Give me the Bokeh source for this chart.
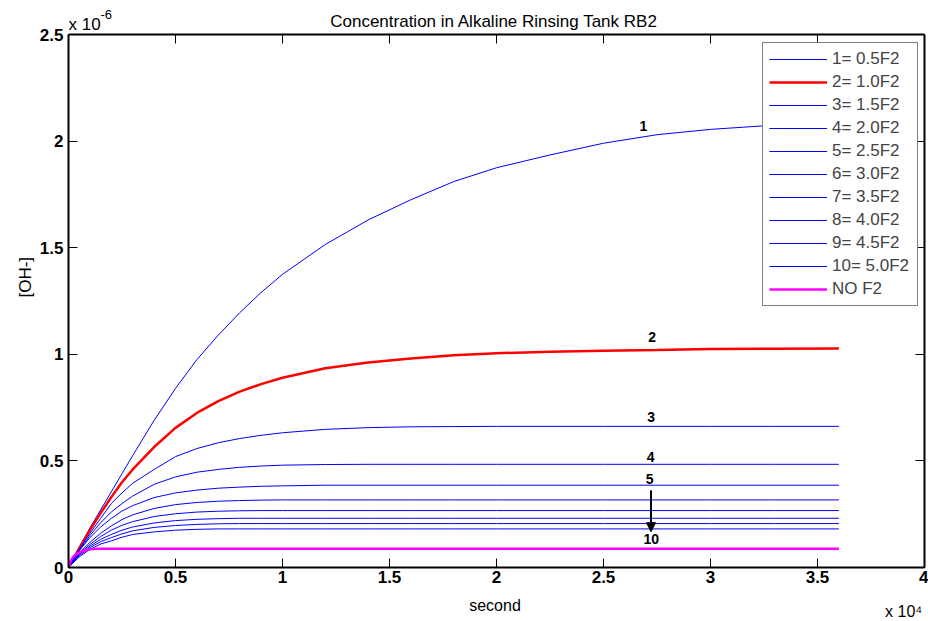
import math
from bokeh.plotting import figure
from bokeh.models import (Label, Legend, LegendItem, LinearAxis, FixedTicker,
                          Range1d, Arrow, NormalHead, Span)
from bokeh.embed import file_html
from bokeh.resources import INLINE

FONT = "Liberation Sans"

# ---------------- data (time in seconds, [OH-] in 1e-6 mol/L) ----------------
time_s = [0, 500, 1000, 1500, 2000, 2500, 3000, 4000, 5000, 6000, 7000, 8000,
          9000, 10000, 12000, 14000, 16000, 18000, 20000, 22500, 25000, 27500,
          30000, 33000, 36000]

c1 = [0, 0.095, 0.185, 0.27, 0.355, 0.44, 0.525, 0.69, 0.84, 0.975, 1.09, 1.195,
      1.29, 1.375, 1.515, 1.63, 1.725, 1.81, 1.875, 1.935, 1.99, 2.03,
      2.055, 2.075, 2.09]
c2 = [0, 0.09, 0.175, 0.255, 0.33, 0.40, 0.46, 0.565, 0.655, 0.725, 0.78, 0.825,
      0.86, 0.89, 0.935, 0.962, 0.98, 0.995, 1.005, 1.012, 1.017, 1.02,
      1.025, 1.026, 1.027]
c3 = [0, 0.085, 0.16, 0.23, 0.30, 0.35, 0.395, 0.46, 0.52, 0.558, 0.585, 0.605,
      0.62, 0.632, 0.648, 0.656, 0.66, 0.661, 0.662, 0.662, 0.662, 0.662,
      0.662, 0.662, 0.662]
c4 = [0, 0.08, 0.15, 0.21, 0.26, 0.30, 0.335, 0.39, 0.425, 0.447, 0.46, 0.47,
      0.476, 0.48, 0.483, 0.484, 0.484, 0.484, 0.484, 0.484, 0.484, 0.484,
      0.484, 0.484, 0.484]
c5 = [0, 0.078, 0.14, 0.19, 0.23, 0.265, 0.29, 0.328, 0.35, 0.363, 0.372, 0.377,
      0.381, 0.383, 0.386, 0.386, 0.386, 0.386, 0.386, 0.386, 0.386, 0.386,
      0.386, 0.386, 0.386]
c6 = [0, 0.068, 0.118, 0.16, 0.195, 0.225, 0.247, 0.277, 0.295, 0.305, 0.311, 0.314,
      0.316, 0.317, 0.317, 0.317, 0.317, 0.317, 0.317, 0.317, 0.317, 0.317,
      0.317, 0.317, 0.317]
c7 = [0, 0.064, 0.108, 0.145, 0.175, 0.198, 0.215, 0.239, 0.252, 0.26, 0.264, 0.266,
      0.267, 0.267, 0.267, 0.267, 0.267, 0.267, 0.267, 0.267, 0.267, 0.267,
      0.267, 0.267, 0.267]
c8 = [0, 0.06, 0.1, 0.132, 0.155, 0.175, 0.19, 0.209, 0.22, 0.226, 0.229, 0.231,
      0.231, 0.231, 0.231, 0.231, 0.231, 0.231, 0.231, 0.231, 0.231, 0.231,
      0.231, 0.231, 0.231]
c9 = [0, 0.055, 0.093, 0.121, 0.14, 0.158, 0.172, 0.188, 0.197, 0.202, 0.205, 0.206,
      0.206, 0.206, 0.206, 0.206, 0.206, 0.206, 0.206, 0.206, 0.206, 0.206,
      0.206, 0.206, 0.206]
c10 = [0, 0.05, 0.085, 0.11, 0.125, 0.142, 0.155, 0.167, 0.175, 0.179, 0.181, 0.181,
       0.181, 0.181, 0.181, 0.181, 0.181, 0.181, 0.181, 0.181, 0.181, 0.181,
       0.181, 0.181, 0.181]

time_nof2_s = [0, 100, 200, 300, 500, 750, 1000, 1300, 36000]
nof2 = [0, 0.03, 0.047, 0.058, 0.07, 0.08, 0.085, 0.0875, 0.0875]

series_labels = ["1= 0.5F2", "2= 1.0F2", "3= 1.5F2", "4= 2.0F2", "5= 2.5F2",
                 "6= 3.0F2", "7= 3.5F2", "8= 4.0F2", "9= 4.5F2", "10= 5.0F2", "NO F2"]

x_ticks = [0, 0.5, 1, 1.5, 2, 2.5, 3, 3.5, 4]
x_tick_labels = ["0", "0.5", "1", "1.5", "2", "2.5", "3", "3.5", "4"]
y_ticks = [0, 0.5, 1, 1.5, 2, 2.5]
y_tick_labels = ["0", "0.5", "1", "1.5", "2", "2.5"]

curve_tags = ["1", "2", "3", "4", "5", "10"]
tag_x = [2.686, 2.727, 2.723, 2.72, 2.716, 2.723]
tag_y = [2.072, 1.08, 0.705, 0.517, 0.416, 0.135]

Y_MAX = 2.5
# the drawing frame reaches the top of the page so the title sits inside it;
# the axes box itself stops at Y_MAX (533 px of the 567 px frame)
Y_FRAME_END = Y_MAX * 567 / 533

# ---------------- figure ----------------
p = figure(width=928, height=621, x_range=Range1d(0, 4),
           y_range=Range1d(0, Y_FRAME_END),
           output_backend="svg", toolbar_location=None,
           x_axis_location=None, y_axis_location=None,
           min_border_left=68, min_border_right=4, min_border_top=0,
           min_border_bottom=54)
p.grid.visible = False
p.outline_line_color = None
p.background_fill_color = "white"
p.border_fill_color = "white"


def style_axis(ax, ticks, labels, show_labels):
    ax.ticker = FixedTicker(ticks=ticks)
    ax.major_tick_in = 9
    ax.major_tick_out = 0
    ax.minor_tick_line_color = None
    ax.axis_line_width = 2
    ax.axis_line_color = "black"
    ax.major_tick_line_width = 1
    ax.major_tick_line_color = "black"
    if show_labels:
        ax.major_label_overrides = {t: l for t, l in zip(ticks, labels)}
        ax.major_label_text_font = FONT
        ax.major_label_text_font_style = "bold"
        ax.major_label_text_font_size = "17px"
        ax.major_label_text_color = "black"
    else:
        ax.major_label_text_font_size = "0px"
        ax.major_label_text_color = None
        ax.major_label_standoff = 0


xb = LinearAxis()
style_axis(xb, x_ticks, x_tick_labels, True)
xb.major_label_standoff = 3
p.add_layout(xb, "below")

yl = LinearAxis(bounds=(0, Y_MAX))
style_axis(yl, y_ticks, y_tick_labels, True)
yl.major_label_standoff = 5
p.add_layout(yl, "left")

yr = LinearAxis(bounds=(0, Y_MAX))
style_axis(yr, y_ticks, y_tick_labels, False)
p.add_layout(yr, "right")

# top edge of the box and its inward ticks
p.add_layout(Span(location=Y_MAX, dimension="width", line_color="black", line_width=2))
p.ray(x=x_ticks, y=[Y_MAX] * len(x_ticks), length=9, length_units="screen",
      angle=-math.pi / 2, line_color="black", line_width=1)

# ---------------- curves ----------------
xs = [t / 1e4 for t in time_s]
xs_nof2 = [t / 1e4 for t in time_nof2_s]
curves = [c1, c2, c3, c4, c5, c6, c7, c8, c9, c10]
renderers = []
for i, c in enumerate(curves):
    if i == 1:
        r = p.line(xs, c, line_color="#ff0000", line_width=2.5)
    else:
        r = p.line(xs, c, line_color="#0000ff", line_width=1)
    renderers.append(r)
renderers.append(p.line(xs_nof2, nof2, line_color="#ff00ff", line_width=2.5))

legend = Legend(items=[LegendItem(label=lab, renderers=[r])
                       for lab, r in zip(series_labels, renderers)],
                location=(694, 261))
legend.label_text_font = FONT
legend.label_text_font_size = "17px"
legend.label_height = 20
legend.glyph_height = 20
legend.glyph_width = 58
legend.label_standoff = 5
legend.label_width = 79
legend.padding = 6
legend.spacing = 3
legend.margin = 0
legend.border_line_color = "black"
legend.border_line_width = 1
legend.background_fill_color = "white"
legend.background_fill_alpha = 1
p.add_layout(legend)

# ---------------- curve tags and arrow ----------------
for t, x, y in zip(curve_tags, tag_x, tag_y):
    p.add_layout(Label(x=x, y=y, text=t, text_font=FONT, text_font_style="bold",
                       text_font_size="14px", text_align="center",
                       text_baseline="middle", text_color="black"))

p.add_layout(Arrow(end=NormalHead(size=9, fill_color="black", line_color="black"),
                   x_start=2.722, y_start=0.362, x_end=2.722, y_end=0.168,
                   line_color="black", line_width=2))

# ---------------- title, axis labels, multipliers ----------------
def txt(x, y, s, size, place=None, align="center", angle=0.0):
    lab = Label(x=x, y=y, text=s, text_font=FONT, text_font_size=size,
                text_align=align, text_baseline="alphabetic", angle=angle,
                text_color="black")
    if place is None:
        p.add_layout(lab)
    else:
        p.add_layout(lab, place)

txt(1.989, 2.562, "Concentration in Alkaline Rinsing Tank RB2", "17px")
txt(0.0, 2.548, "x 10", "17px", align="left")
txt(0.1495, 2.594, "-6", "13px", align="left")
txt(1.993, -0.177, "second", "16px", "below")
txt(3.816, -0.205, "x 10\u2074", "16px", "below", align="left")
txt(-0.203, 1.3616, "[OH-]", "17px", "left", angle=1.5707963)

open("out.html", "w").write(file_html(p, INLINE))
